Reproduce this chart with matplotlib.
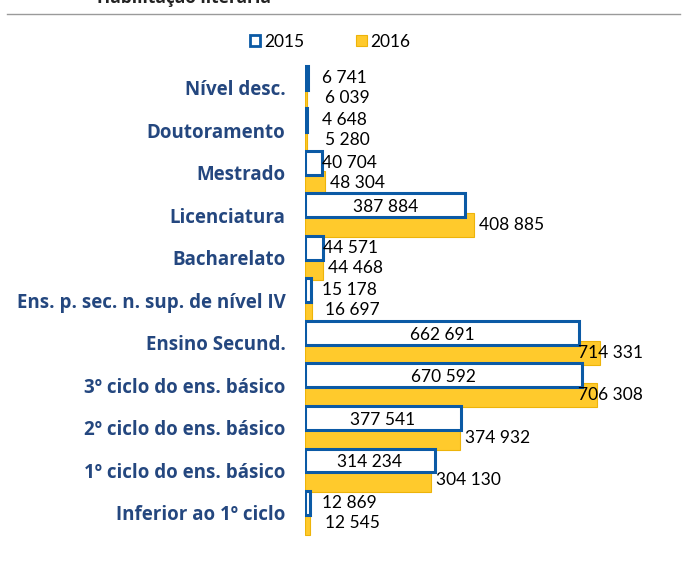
import matplotlib.pyplot as plt
from matplotlib.patches import Patch
from matplotlib.lines import Line2D

plt.rcParams['font.family'] = ['Lato', 'DejaVu Sans']

categories = ['Nível desc.', 'Doutoramento', 'Mestrado', 'Licenciatura', 'Bacharelato',
              'Ens. p. sec. n. sup. de nível IV', 'Ensino Secund.',
              '3º ciclo do ens. básico', '2º ciclo do ens. básico',
              '1º ciclo do ens. básico', 'Inferior ao 1º ciclo']
v2015 = [6741, 4648, 40704, 387884, 44571, 15178, 662691, 670592, 377541, 314234, 12869]
v2016 = [6039, 5280, 48304, 408885, 44468, 16697, 714331, 706308, 374932, 304130, 12545]

BLUE = '#0B5AA5'
YELLOW = '#FFCA2C'
YEDGE = '#EDB40A'
LABEL = '#24477F'


def fmt(v):
    return '{:,}'.format(v).replace(',', ' ')


fig = plt.figure(figsize=(6.83, 5.76), dpi=100)
ax = fig.add_axes([305 / 683, 1 - 540.6 / 576, 345 / 683, 480.6 / 576])

pos = list(range(len(categories)))
off = 0.235
h = 0.56
ax.barh([p + off for p in pos], v2016, height=h, color=YELLOW, edgecolor=YEDGE,
        linewidth=0.8, zorder=1)
ax.barh([p - off for p in pos], v2015, height=h, color='white', edgecolor=BLUE,
        linewidth=2.2, zorder=2)

xmax = 835000
px = xmax / 345.0  # data units per pixel
for p, v in zip(pos, v2015):
    if v > 300000:
        ax.text(v / 2, p - off + 0.04, fmt(v), ha='center', va='center', fontsize=12.5, zorder=3)
    else:
        ax.text(max(v, 17 * px), p - off, fmt(v), ha='left', va='center', fontsize=12.5, zorder=3)
for p, v in zip(pos, v2016):
    x = max(v + 5 * px, 20 * px)
    if x + 68 * px > xmax:
        x = xmax - 72 * px
    ax.text(x, p + off, fmt(v), ha='left', va='center', fontsize=12.5, zorder=3)

ax.set_xlim(0, xmax)
ax.set_ylim(10.65, -0.65)
ax.set_yticks(pos)
ax.set_yticklabels(categories, fontsize=13.5, fontweight='bold', color=LABEL,
                   family=['Open Sans', 'DejaVu Sans'])
ax.tick_params(axis='y', length=0, pad=14)
ax.set_xticks([])
for s in ax.spines.values():
    s.set_visible(False)

handles = [Patch(facecolor='white', edgecolor=BLUE, linewidth=2),
           Patch(facecolor=YELLOW, edgecolor=YEDGE, linewidth=0.8)]
fig.legend(handles, ['2015', '2016'], loc='center', bbox_to_anchor=(330 / 683, 1 - 42 / 576),
           ncol=2, frameon=False, fontsize=12.5, handlelength=0.6, handleheight=0.6,
           handletextpad=0.2, columnspacing=3.0)

fig.add_artist(Line2D([7 / 683, 680 / 683], [1 - 14 / 576] * 2, color='#9A9A9A', lw=1))
fig.text(97 / 683, 1 + 2 / 576, 'Habilitação literária', ha='left', va='center',
         fontsize=12.5, fontweight='bold', color='#222222', family=['Open Sans', 'DejaVu Sans'])

fig.savefig('out.png', dpi=100)
